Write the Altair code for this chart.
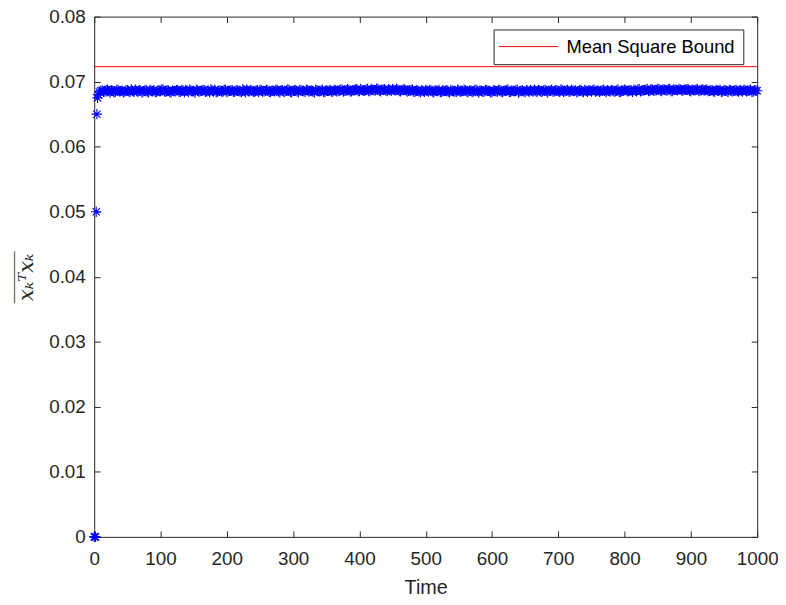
import altair as alt
import pandas as pd

# ---- data ----
early_t = [0, 1, 2, 3, 4, 5, 6]
early_v = [0.0, 0.0, 0.0, 0.0500, 0.0650, 0.0675, 0.0680]

band_a_t = list(range(8, 1001, 4))
band_a_v = [
    0.06840, 0.06866, 0.06849, 0.06877, 0.06831, 0.06858, 0.06846, 0.06872, 0.06854, 0.06837,
    0.06863, 0.06850, 0.06879, 0.06843, 0.06856, 0.06868, 0.06834, 0.06860, 0.06847, 0.06874,
    0.06852, 0.06839, 0.06865, 0.06857, 0.06881, 0.06845, 0.06862, 0.06836, 0.06854, 0.06870,
    0.06848, 0.06867, 0.06841, 0.06859, 0.06875, 0.06850, 0.06833, 0.06864, 0.06856, 0.06871,
    0.06844, 0.06861, 0.06878, 0.06849, 0.06837, 0.06866, 0.06853, 0.06872, 0.06840, 0.06858,
    0.06869, 0.06846, 0.06863, 0.06851, 0.06880, 0.06835, 0.06857, 0.06874, 0.06848, 0.06862,
    0.06839, 0.06867, 0.06854, 0.06876, 0.06843, 0.06860, 0.06850, 0.06873, 0.06836, 0.06865,
    0.06852, 0.06878, 0.06845, 0.06859, 0.06870, 0.06841, 0.06864, 0.06855, 0.06877, 0.06847,
    0.06861, 0.06834, 0.06868, 0.06853, 0.06875, 0.06844, 0.06858, 0.06871, 0.06849, 0.06866,
    0.06856, 0.06881, 0.06846, 0.06864, 0.06873, 0.06850, 0.06867, 0.06884, 0.06854, 0.06869,
    0.06860, 0.06886, 0.06857, 0.06873, 0.06865, 0.06889, 0.06852, 0.06876, 0.06862, 0.06883,
    0.06858, 0.06874, 0.06887, 0.06855, 0.06870, 0.06881, 0.06849, 0.06867, 0.06876, 0.06846,
    0.06863, 0.06840, 0.06856, 0.06871, 0.06848, 0.06865, 0.06837, 0.06859, 0.06874, 0.06843,
    0.06854, 0.06868, 0.06835, 0.06861, 0.06850, 0.06877, 0.06842, 0.06857, 0.06866, 0.06839,
    0.06863, 0.06851, 0.06875, 0.06833, 0.06858, 0.06847, 0.06870, 0.06854, 0.06838, 0.06864,
    0.06849, 0.06872, 0.06841, 0.06860, 0.06878, 0.06845, 0.06856, 0.06867, 0.06834, 0.06862,
    0.06852, 0.06869, 0.06843, 0.06858, 0.06875, 0.06840, 0.06864, 0.06850, 0.06873, 0.06837,
    0.06859, 0.06846, 0.06868, 0.06854, 0.06879, 0.06842, 0.06861, 0.06848, 0.06871, 0.06857,
    0.06836, 0.06865, 0.06851, 0.06874, 0.06844, 0.06860, 0.06869, 0.06847, 0.06863, 0.06855,
    0.06876, 0.06841, 0.06858, 0.06872, 0.06849, 0.06866, 0.06838, 0.06862, 0.06877, 0.06853,
    0.06868, 0.06845, 0.06861, 0.06880, 0.06850, 0.06865, 0.06873, 0.06856, 0.06882, 0.06859,
    0.06871, 0.06885, 0.06854, 0.06877, 0.06863, 0.06888, 0.06857, 0.06874, 0.06867, 0.06881,
    0.06860, 0.06876, 0.06884, 0.06852, 0.06869, 0.06879, 0.06855, 0.06872, 0.06864, 0.06878,
    0.06858, 0.06870, 0.06847, 0.06865, 0.06875, 0.06851, 0.06863, 0.06840, 0.06867, 0.06856,
    0.06872, 0.06848, 0.06862, 0.06877, 0.06853, 0.06866, 0.06844, 0.06869, 0.06859,
]

band_b_t = list(range(10, 999, 4))
band_b_v = [
    0.06858, 0.06843, 0.06870, 0.06855, 0.06864, 0.06837, 0.06873, 0.06851, 0.06861, 0.06846,
    0.06867, 0.06839, 0.06856, 0.06875, 0.06848, 0.06862, 0.06853, 0.06871, 0.06835, 0.06859,
    0.06869, 0.06844, 0.06857, 0.06878, 0.06850, 0.06863, 0.06841, 0.06866, 0.06852, 0.06874,
    0.06845, 0.06860, 0.06871, 0.06838, 0.06864, 0.06855, 0.06876, 0.06847, 0.06859, 0.06868,
    0.06853, 0.06836, 0.06866, 0.06872, 0.06849, 0.06861, 0.06844, 0.06877, 0.06857, 0.06863,
    0.06842, 0.06870, 0.06854, 0.06838, 0.06865, 0.06879, 0.06851, 0.06860, 0.06845, 0.06868,
    0.06873, 0.06848, 0.06857, 0.06866, 0.06840, 0.06862, 0.06876, 0.06853, 0.06869, 0.06844,
    0.06859, 0.06871, 0.06837, 0.06864, 0.06850, 0.06874, 0.06856, 0.06843, 0.06867, 0.06861,
    0.06848, 0.06877, 0.06855, 0.06862, 0.06839, 0.06870, 0.06858, 0.06846, 0.06873, 0.06852,
    0.06866, 0.06874, 0.06859, 0.06883, 0.06851, 0.06868, 0.06878, 0.06857, 0.06886, 0.06863,
    0.06879, 0.06854, 0.06884, 0.06868, 0.06890, 0.06861, 0.06875, 0.06882, 0.06856, 0.06871,
    0.06885, 0.06862, 0.06877, 0.06852, 0.06880, 0.06866, 0.06858, 0.06873, 0.06845, 0.06864,
    0.06851, 0.06869, 0.06843, 0.06860, 0.06874, 0.06847, 0.06863, 0.06855, 0.06838, 0.06867,
    0.06859, 0.06846, 0.06872, 0.06853, 0.06841, 0.06866, 0.06857, 0.06875, 0.06849, 0.06862,
    0.06840, 0.06868, 0.06855, 0.06863, 0.06844, 0.06871, 0.06859, 0.06836, 0.06865, 0.06852,
    0.06874, 0.06847, 0.06858, 0.06869, 0.06843, 0.06861, 0.06854, 0.06876, 0.06850, 0.06864,
    0.06839, 0.06862, 0.06870, 0.06848, 0.06857, 0.06873, 0.06845, 0.06866, 0.06855, 0.06860,
    0.06877, 0.06851, 0.06863, 0.06842, 0.06868, 0.06856, 0.06874, 0.06847, 0.06859, 0.06865,
    0.06853, 0.06871, 0.06838, 0.06860, 0.06867, 0.06849, 0.06875, 0.06856, 0.06844, 0.06863,
    0.06858, 0.06870, 0.06846, 0.06865, 0.06852, 0.06878, 0.06843, 0.06861, 0.06869, 0.06855,
    0.06864, 0.06876, 0.06853, 0.06882, 0.06860, 0.06871, 0.06887, 0.06858, 0.06875, 0.06866,
    0.06889, 0.06862, 0.06879, 0.06870, 0.06884, 0.06857, 0.06880, 0.06873, 0.06886, 0.06865,
    0.06877, 0.06883, 0.06859, 0.06874, 0.06868, 0.06881, 0.06861, 0.06878, 0.06870, 0.06856,
    0.06866, 0.06852, 0.06873, 0.06860, 0.06845, 0.06869, 0.06857, 0.06874, 0.06850, 0.06863,
    0.06855, 0.06871, 0.06847, 0.06866, 0.06860, 0.06875, 0.06849, 0.06864,
]

bound_t = [0, 1000]
bound_v = [0.0723, 0.0723]
bound_name = ["Mean Square Bound", "Mean Square Bound"]

x_ticks = [0, 100, 200, 300, 400, 500, 600, 700, 800, 900, 1000]
y_ticks = [0, 0.01, 0.02, 0.03, 0.04, 0.05, 0.06, 0.07, 0.08]

pts = pd.DataFrame({"t": early_t + band_a_t + band_b_t,
                    "v": early_v + band_a_v + band_b_v})
bnd = pd.DataFrame({"t": bound_t, "v": bound_v, "name": bound_name})

FONT = "Liberation Sans"
TXT = "#262626"
ASTERISK = "M0,-1L0,1M-1,0L1,0M-0.7,-0.7L0.7,0.7M-0.7,0.7L0.7,-0.7"

xscale = alt.Scale(domain=[0, 1000], nice=False, zero=False)
yscale = alt.Scale(domain=[0, 0.08], nice=False, zero=False)

common = dict(grid=False, domain=False, tickSize=6, offset=-6, tickColor=TXT,
              labelColor=TXT, labelFont=FONT, labelFontSize=19, labelFlush=False,
              titleColor=TXT, tickWidth=1)

ytitle = ["\u203e\u203e\u203e\u203e\u203e", "x\u2096\u1d40x\u2096"]

points = alt.Chart(pts).mark_point(
    shape=ASTERISK, filled=False, stroke="#0000ff", strokeWidth=1.1, size=110, opacity=1
).encode(
    x=alt.X("t:Q", scale=xscale,
            axis=alt.Axis(orient="bottom", values=x_ticks, format="d", labelPadding=13,
                          title="Time", titleFont=FONT, titleFontSize=20,
                          titleFontWeight="normal", titlePadding=9, **common)),
    y=alt.Y("v:Q", scale=yscale,
            axis=alt.Axis(orient="left", values=y_ticks, format=".2~f", labelPadding=9,
                          title=ytitle, titleFont="DejaVu Serif", titleFontStyle="italic",
                          titleFontWeight="normal", titleFontSize=21, titleLineHeight=3,
                          titlePadding=12, **common)),
)

bound = alt.Chart(bnd).mark_line(strokeWidth=1).encode(
    x=alt.X("t:Q", scale=xscale,
            axis=alt.Axis(orient="top", values=x_ticks, labels=False, title="", **common)),
    y=alt.Y("v:Q", scale=yscale,
            axis=alt.Axis(orient="right", values=y_ticks, labels=False, title="", **common)),
    color=alt.Color("name:N",
                    scale=alt.Scale(domain=["Mean Square Bound"], range=["#ff0000"]),
                    legend=alt.Legend(orient="none", legendX=403, legendY=13, title=None,
                                      symbolType="M-6,0L6,0", symbolSize=100,
                                      symbolStrokeWidth=1, symbolOffset=18,
                                      labelOffset=29, labelLimit=0,
                                      labelFontSize=18.5, labelFont=FONT,
                                      labelColor="#000000", fillColor="white",
                                      strokeColor=TXT, padding=8)),
)

chart = alt.layer(points, bound).resolve_axis(x="independent", y="independent").properties(
    width=669, height=525,
    autosize=alt.AutoSizeParams(type="none"),
    padding={"left": 87, "top": 6, "right": 21, "bottom": 58},
).configure_view(stroke=TXT, strokeWidth=1)

chart.save("out.html", embed_options={"renderer": "svg", "actions": False})
